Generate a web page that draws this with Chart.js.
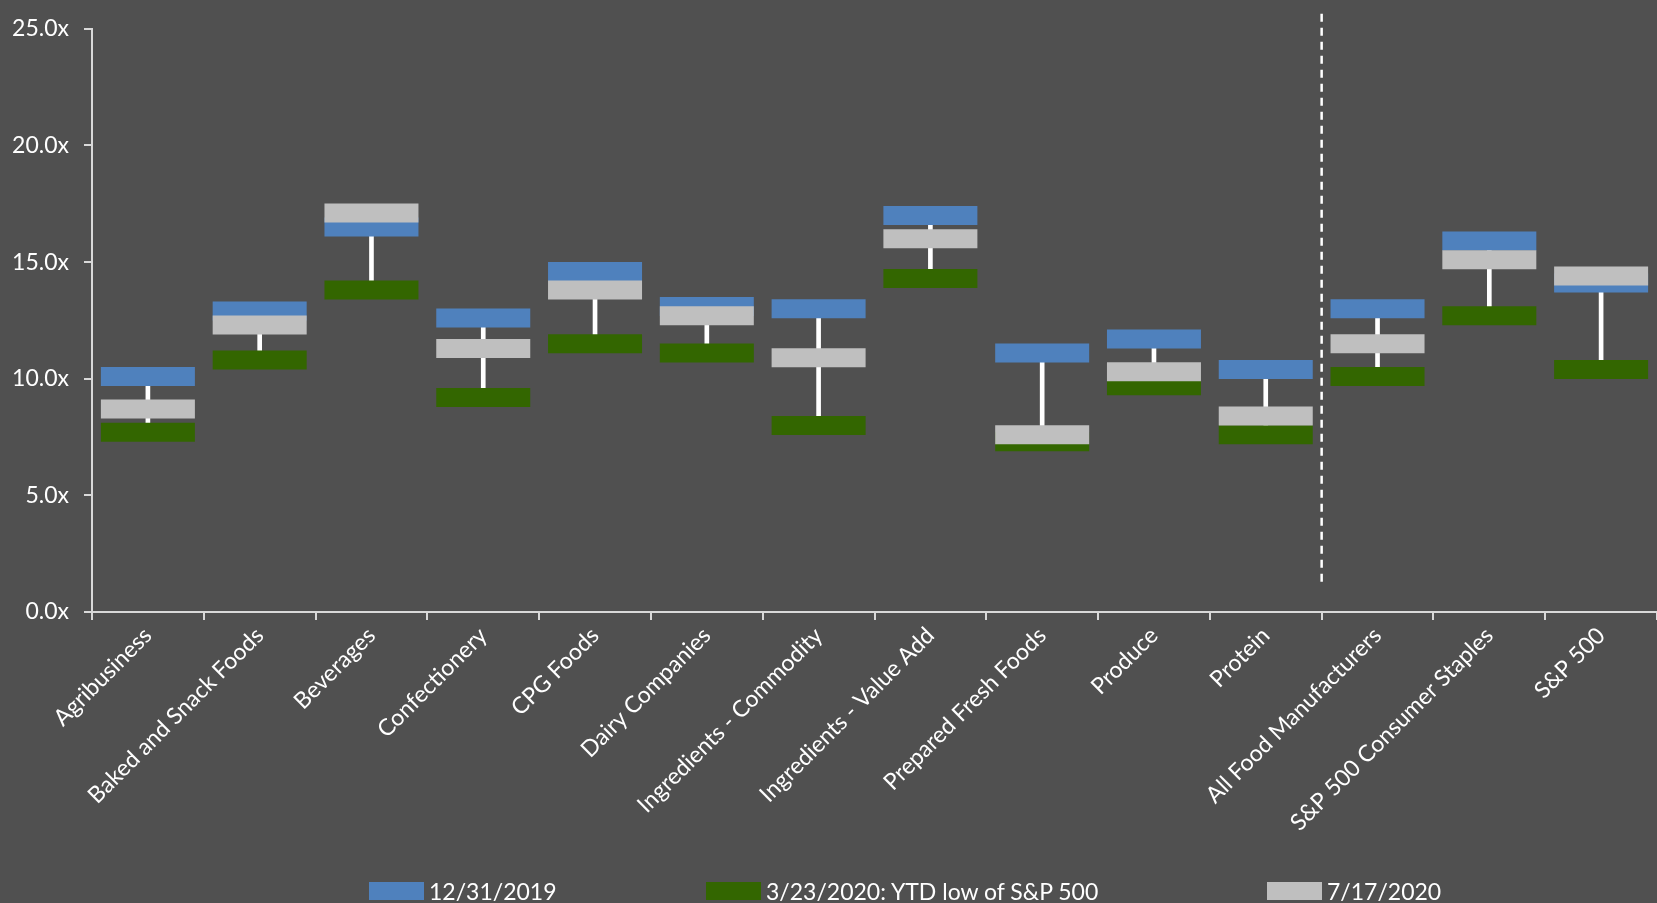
<!DOCTYPE html>
<html>
<head>
<meta charset="utf-8">
<script src="https://cdn.jsdelivr.net/npm/chart.js@4"></script>
<style>
  html, body { margin: 0; padding: 0; background: #505050; }
  #wrap { position: relative; width: 1657px; height: 903px; overflow: hidden; }
  #legend { position: absolute; left: 0; top: 877px; width: 1657px; font: 23px Lato, sans-serif; color: #fff; }
  .item { position: absolute; top: 0; display: flex; align-items: center; white-space: nowrap; }
  .box { width: 55px; height: 18px; margin-right: 5px; }
</style>
</head>
<body>
<div id="wrap">
  <canvas id="myChart" width="1657" height="903"></canvas>
  <div id="legend"></div>
</div>
<script>
const categories = ['Agribusiness', 'Baked and Snack Foods', 'Beverages', 'Confectionery', 'CPG Foods',
  'Dairy Companies', 'Ingredients - Commodity', 'Ingredients - Value Add', 'Prepared Fresh Foods',
  'Produce', 'Protein', 'All Food Manufacturers', 'S&P 500 Consumer Staples', 'S&P 500'];

const dec2019 = [10.1, 12.9, 16.5, 12.6, 14.6, 13.1, 13.0, 17.0, 11.1, 11.7, 10.4, 13.0, 15.9, 14.1];
const mar2020 = [7.7, 10.8, 13.8, 9.2, 11.5, 11.1, 8.0, 14.3, 7.3, 9.7, 7.6, 10.1, 12.7, 10.4];
const jul2020 = [8.7, 12.3, 17.1, 11.3, 13.8, 12.7, 10.9, 16.0, 7.6, 10.3, 8.4, 11.5, 15.1, 14.4];

const seriesNames = ['12/31/2019', '3/23/2020: YTD low of S&P 500', '7/17/2020'];
const yTicks = [0, 5, 10, 15, 20, 25];

// dashed separator between the sectors and the benchmark groups
const dividerAfter = 10;
const dividerRange = [1.15, 25.65];

const colors = ['#4F81BD', '#336600', '#BFBFBF'];
const legendLeft = [369, 706, 1267];

// white high-low line from lowest to highest of the three dates
const hiLo = categories.map((_, i) => {
  const v = [dec2019[i], mar2020[i], jul2020[i]];
  return [Math.min(...v), Math.max(...v)];
});

function marker(color) {
  return {
    type: 'line',
    showLine: false,
    pointStyle: 'line',
    pointRadius: 47,
    pointHoverRadius: 47,
    pointBorderWidth: 19,
    pointHoverBorderWidth: 19,
    borderColor: color,
    backgroundColor: color,
    pointBorderColor: color,
    pointBackgroundColor: color,
    clip: false
  };
}

const divider = {
  id: 'divider',
  afterDatasetsDraw(chart) {
    const { ctx, scales: { x, y } } = chart;
    const xPos = (x.getPixelForValue(dividerAfter) + x.getPixelForValue(dividerAfter + 1)) / 2;
    ctx.save();
    ctx.strokeStyle = '#ffffff';
    ctx.lineWidth = 2.5;
    ctx.setLineDash([8, 6]);
    ctx.beginPath();
    ctx.moveTo(xPos, y.getPixelForValue(dividerRange[1]));
    ctx.lineTo(xPos, y.getPixelForValue(dividerRange[0]));
    ctx.stroke();
    ctx.restore();
  }
};

const axisColor = '#D9D9D9';
const font = { family: 'Lato, sans-serif', size: 23 };

const ctx = document.getElementById('myChart');

new Chart(ctx, {
  data: {
    labels: categories,
    datasets: [
      { label: seriesNames[0], data: dec2019, order: 3, ...marker(colors[0]) },
      { label: seriesNames[1], data: mar2020, order: 2, ...marker(colors[1]) },
      { label: seriesNames[2], data: jul2020, order: 1, ...marker(colors[2]) },
      { type: 'bar', label: 'range', data: hiLo, order: 4, backgroundColor: '#ffffff', barThickness: 4, grouped: false }
    ]
  },
  options: {
    responsive: false,
    animation: false,
    events: [],
    layout: { autoPadding: false, padding: { top: 23, left: 0, right: 0, bottom: 0 } },
    scales: {
      x: {
        type: 'category',
        offset: true,
        afterFit: (scale) => { scale.height = 291; },
        border: { color: axisColor, width: 2 },
        grid: { offset: true, drawOnChartArea: false, drawTicks: true, tickLength: 8, color: axisColor, lineWidth: 2 },
        ticks: { color: '#ffffff', font: font, maxRotation: 45, minRotation: 45, autoSkip: false, padding: 2 }
      },
      y: {
        min: 0,
        max: 25,
        afterFit: (scale) => { scale.width = 92; },
        afterBuildTicks: (scale) => { scale.ticks = yTicks.map(v => ({ value: v })); },
        border: { color: axisColor, width: 2 },
        grid: { drawOnChartArea: false, drawTicks: true, tickLength: 8, color: axisColor, lineWidth: 2 },
        ticks: { color: '#ffffff', font: font, padding: 15, callback: (v) => v.toFixed(1) + 'x' }
      }
    },
    plugins: {
      legend: { display: false },
      tooltip: { enabled: false }
    }
  },
  plugins: [divider]
});

const legend = document.getElementById('legend');
seriesNames.forEach((name, i) => {
  const item = document.createElement('div');
  item.className = 'item';
  item.style.left = legendLeft[i] + 'px';
  const box = document.createElement('span');
  box.className = 'box';
  box.style.background = colors[i];
  const text = document.createElement('span');
  text.textContent = name;
  item.appendChild(box);
  item.appendChild(text);
  legend.appendChild(item);
});
</script>
</body>
</html>
